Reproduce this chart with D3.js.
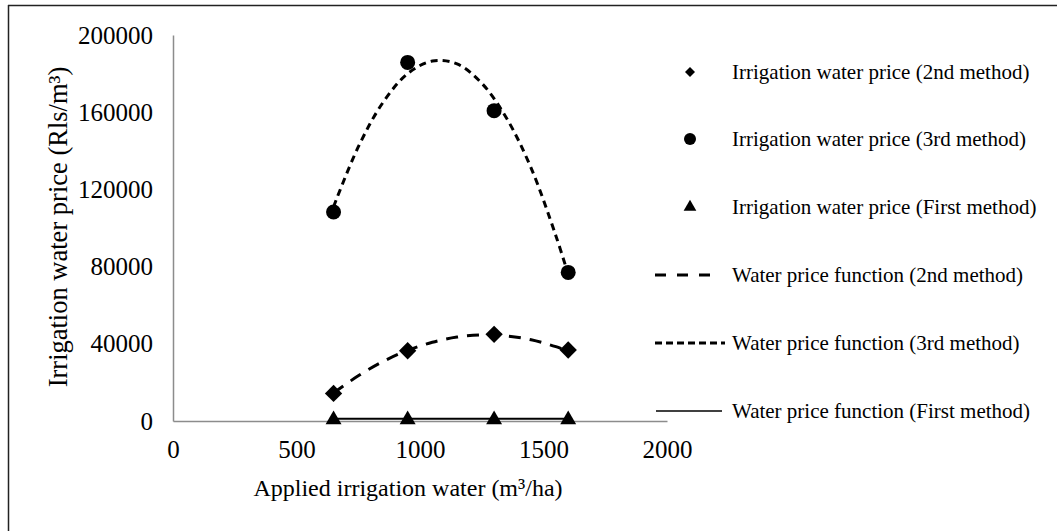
<!DOCTYPE html>
<html>
<head>
<meta charset="utf-8">
<script src="https://cdn.jsdelivr.net/npm/d3@7"></script>
<style>
  body { margin: 0; background: #fff; }
  text { font-family: "Liberation Serif", "Times New Roman", serif; fill: #000; }
</style>
</head>
<body>
<div id="chart"></div>
<script>
// observed points
var waterApplied = [650, 950, 1300, 1600];
var price2nd = [14300, 36400, 44900, 36800];
var price3rd = [108300, 185800, 160800, 77000];
var priceFirst = [1200, 1200, 1200, 1200];

// fitted curves
var fitX = [650, 750, 850, 950, 1050, 1150, 1250, 1350, 1450, 1550, 1600];
var fit2nd = [14500, 23400, 30800, 36600, 40800, 43500, 44600, 44100, 42100, 38500, 36100];
var fit3rd = [111000, 142000, 165000, 180000, 186500, 185000, 175000, 157000, 131000, 96000, 76000];
var fitFirstX = [650, 1600];
var fitFirst = [1200, 1200];

var xTicks = [0, 500, 1000, 1500, 2000];
var yTicks = [0, 40000, 80000, 120000, 160000, 200000];

var legendLabels = [
  "Irrigation water price (2nd method)",
  "Irrigation water price (3rd method)",
  "Irrigation water price (First method)",
  "Water price function (2nd method)",
  "Water price function (3rd method)",
  "Water price function (First method)"
];

var W = 1057, H = 531;
var margin = {top: 35, left: 173};
var width = 494, height = 386;

var svg = d3.select("#chart").append("svg")
  .attr("width", W).attr("height", H);

// outer frame (only top and left edges visible)
svg.append("line").attr("x1", 8).attr("x2", W).attr("y1", 5.5).attr("y2", 5.5)
  .attr("stroke", "#222").attr("stroke-width", 1.5);
svg.append("line").attr("x1", 8.5).attr("x2", 8.5).attr("y1", 5).attr("y2", H)
  .attr("stroke", "#222").attr("stroke-width", 1.5);

var g = svg.append("g").attr("transform", "translate(" + margin.left + "," + margin.top + ")");

var x = d3.scaleLinear().domain([0, 2000]).range([0, width]);
var y = d3.scaleLinear().domain([0, 200000]).range([height, 0]);

// axes
var yAxis = g.append("g").call(d3.axisLeft(y).tickValues(yTicks).tickSize(0).tickPadding(20).tickFormat(d3.format("d")));
yAxis.select(".domain").attr("stroke", "#8c8c8c").attr("stroke-width", 1.5);
yAxis.selectAll("text").style("font-size", "25px").style("font-family", "Liberation Serif");

var xAxis = g.append("g").attr("transform", "translate(0," + height + ")")
  .call(d3.axisBottom(x).tickValues(xTicks).tickSize(0).tickPadding(19).tickFormat(d3.format("d")));
xAxis.select(".domain").attr("stroke", "#8c8c8c").attr("stroke-width", 1.5);
xAxis.selectAll("text").style("font-size", "25px").style("font-family", "Liberation Serif");

// axis titles
svg.append("text")
  .attr("transform", "translate(58,227) rotate(-90)")
  .attr("text-anchor", "middle").attr("dominant-baseline", "central")
  .style("font-size", "26.5px")
  .text("Irrigation water price (Rls/m³)");
svg.append("text")
  .attr("x", 408).attr("y", 488)
  .attr("text-anchor", "middle").attr("dominant-baseline", "central")
  .style("font-size", "24px")
  .text("Applied irrigation water (m³/ha)");

// trend lines
var line = d3.line().x(d => x(d[0])).y(d => y(d[1])).curve(d3.curveCatmullRom.alpha(0.5));

g.append("path").datum(d3.zip(fitFirstX, fitFirst))
  .attr("d", line).attr("fill", "none").attr("stroke", "#000").attr("stroke-width", 2);
g.append("path").datum(d3.zip(fitX, fit2nd))
  .attr("d", line).attr("fill", "none").attr("stroke", "#000").attr("stroke-width", 3)
  .attr("stroke-dasharray", "12,9");
g.append("path").datum(d3.zip(fitX, fit3rd))
  .attr("d", line).attr("fill", "none").attr("stroke", "#000").attr("stroke-width", 3)
  .attr("stroke-dasharray", "7,5");

// markers
var diamond = d3.symbol().type(d3.symbolSquare).size(150);
var tri = d3.symbol().type(d3.symbolTriangle).size(110);

g.selectAll(".pt2").data(d3.zip(waterApplied, price2nd)).enter().append("path")
  .attr("transform", d => "translate(" + x(d[0]) + "," + y(d[1]) + ") rotate(45)")
  .attr("d", diamond).attr("fill", "#000");
g.selectAll(".pt3").data(d3.zip(waterApplied, price3rd)).enter().append("circle")
  .attr("cx", d => x(d[0])).attr("cy", d => y(d[1])).attr("r", 7.5).attr("fill", "#000");
g.selectAll(".pt1").data(d3.zip(waterApplied, priceFirst)).enter().append("path")
  .attr("transform", d => "translate(" + x(d[0]) + "," + (y(d[1]) + 1) + ")")
  .attr("d", tri).attr("fill", "#000");

// legend
var legY = [72, 139, 207, 275, 343, 411];
var leg = svg.append("g");
leg.selectAll("text").data(legendLabels).enter().append("text")
  .attr("x", 732)
  .attr("y", (d, i) => legY[i])
  .attr("dominant-baseline", "central")
  .style("font-size", "21px")
  .text(d => d);

leg.append("path").attr("transform", "translate(690," + legY[0] + ") rotate(45)")
  .attr("d", d3.symbol().type(d3.symbolSquare).size(50)).attr("fill", "#000");
leg.append("circle").attr("cx", 690).attr("cy", legY[1]).attr("r", 6).attr("fill", "#000");
leg.append("path").attr("transform", "translate(690," + legY[2] + ")")
  .attr("d", d3.symbol().type(d3.symbolTriangle).size(70)).attr("fill", "#000");

leg.append("line").attr("x1", 655).attr("x2", 714).attr("y1", legY[3]).attr("y2", legY[3])
  .attr("stroke", "#000").attr("stroke-width", 3).attr("stroke-dasharray", "11,11");
leg.append("line").attr("x1", 655).attr("x2", 725).attr("y1", legY[4]).attr("y2", legY[4])
  .attr("stroke", "#000").attr("stroke-width", 3).attr("stroke-dasharray", "7,4");
leg.append("line").attr("x1", 656).attr("x2", 722).attr("y1", legY[5]).attr("y2", legY[5])
  .attr("stroke", "#000").attr("stroke-width", 1.5);
</script>
</body>
</html>
